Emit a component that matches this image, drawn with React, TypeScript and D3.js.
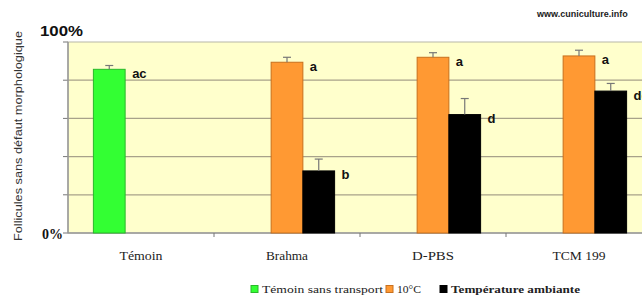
import React from 'react'
import * as d3 from 'd3'

const categories = ['Témoin', 'Brahma', 'D-PBS', 'TCM 199']
const series = ['Témoin sans transport', '10°C', 'Température ambiante']
const colors = ['#33ff33', '#ff9933', '#000000']
const strokes = ['#2ab82a', '#c8701e', '#000000']
// values (%) per series, null where no bar
const temoinVals = [85.7, null, null, null]
const coldVals = [null, 89.4, 92.0, 92.7]
const ambientVals = [null, 32.5, 62.0, 74.3]
const temoinErr = [2.0, null, null, null]
const coldErr = [null, 2.6, 2.4, 3.0]
const ambientErr = [null, 6.2, 8.4, 4.0]
const temoinLabels = ['ac', '', '', '']
const coldLabels = ['', 'a', 'a', 'a']
const ambientLabels = ['', 'b', 'd', 'de']
const yTicks = [0, 20, 40, 60, 80, 100]

export default function App() {
    const width = 642
    const height = 299
    const margin = { top: 42, left: 68, bottom: 66 }
    const plotW = 584
    const plotH = height - margin.top - margin.bottom

    const x = d3.scaleBand().domain(categories).range([0, plotW])
    const inner = d3.scaleBand().domain(series).range([0, x.bandwidth()]).paddingOuter(0.8).paddingInner(0)
    const y = d3.scaleLinear().domain([0, 100]).range([plotH, 0])

    const vals = [temoinVals, coldVals, ambientVals]
    const errs = [temoinErr, coldErr, ambientErr]
    const labels = [temoinLabels, coldLabels, ambientLabels]

    const bars: any[] = []
    series.forEach((s, si) => {
        categories.forEach((c, ci) => {
            const v = vals[si][ci]
            if (v == null) return
            bars.push({ s, si, c, v, e: errs[si][ci], label: labels[si][ci] })
        })
    })

    const catWidths = [43, 42, 42, 53]
    const legendItems = [
        { x: 251, w: 121, text: series[0], bold: false },
        { x: 386, w: 24, text: series[1], bold: false },
        { x: 440, w: 129, text: series[2], bold: true },
    ]

    return (
        <svg width={width} height={height} style={{ position: 'absolute', left: 0, top: 0, background: '#fff' }}>
            <text x={537} y={17} fontFamily="Liberation Sans, Arial" fontWeight="bold" fontSize={9} fill="#222">www.cuniculture.info</text>
            <text transform={`translate(22, ${136}) rotate(-90)`} textAnchor="middle" textLength={210} lengthAdjust="spacingAndGlyphs"
                fontFamily="Liberation Sans, Arial" fontSize={10.5} fill="#333">Follicules sans défaut morphologique</text>
            <text x={40} y={36} textLength={43} lengthAdjust="spacingAndGlyphs" fontFamily="Liberation Sans, Arial" fontWeight="bold" fontSize={14} fill="#111">100%</text>
            <text x={63} y={239} textAnchor="end" fontFamily="Liberation Serif, Times New Roman" fontWeight="bold" fontSize={14} fill="#111">0%</text>
            <g transform={`translate(${margin.left},${margin.top})`}>
                <rect x={0} y={0} width={plotW} height={plotH} fill="#ffffcc" stroke="#b8b8a8" strokeWidth={1} />
                {yTicks.map(t => (
                    <g key={t}>
                        {t > 0 && t < 100 && <line x1={0} x2={plotW} y1={y(t)} y2={y(t)} stroke="#a8a28a" strokeWidth={1.2} />}
                        <line x1={-5} x2={0} y1={y(t)} y2={y(t)} stroke="#777" />
                    </g>
                ))}
                <line x1={0} x2={0} y1={0} y2={plotH} stroke="#999" strokeWidth={1.5} />
                <line x1={0} x2={plotW} y1={plotH} y2={plotH} stroke="#999" strokeWidth={1.5} />
                {categories.slice(1).map(c => (
                    <line key={c} x1={x(c)!} x2={x(c)!} y1={plotH} y2={plotH + 4} stroke="#777" />
                ))}
                {bars.map((b, i) => {
                    const bx = x(b.c)! + inner(b.s)!
                    const bw = inner.bandwidth()
                    const cx = bx + bw / 2
                    return (
                        <g key={i}>
                            <rect x={bx} y={y(b.v)} width={bw} height={plotH - y(b.v)} fill={colors[b.si]} stroke={strokes[b.si]} strokeWidth={1} />
                            <line x1={cx} x2={cx} y1={y(b.v)} y2={y(b.v + b.e)} stroke="#777" strokeWidth={1.2} />
                            <line x1={cx - 4} x2={cx + 4} y1={y(b.v + b.e)} y2={y(b.v + b.e)} stroke="#777" strokeWidth={1.2} />
                            <text x={bx + bw + 7} y={y(b.v) + 4} dy="0.35em" fontFamily="Liberation Sans, Arial" fontWeight="bold" fontSize={13} fill="#111">{b.label}</text>
                        </g>
                    )
                })}
                {categories.map((c, i) => (
                    <text key={c} x={x(c)! + x.bandwidth() / 2 - catWidths[i] / 2} y={plotH + 27}
                        textLength={catWidths[i]} lengthAdjust="spacingAndGlyphs"
                        fontFamily="Liberation Serif, Times New Roman" fontSize={12} fill="#222">{c}</text>
                ))}
            </g>
            <g>
                {legendItems.map((l, i) => (
                    <g key={i}>
                        <rect x={l.x} y={285.5} width={7} height={7} fill={colors[i]} stroke={strokes[i]} />
                        <text x={l.x + 11} y={293} textLength={l.w} lengthAdjust="spacingAndGlyphs"
                            fontFamily="Liberation Serif, Times New Roman" fontSize={11}
                            fontWeight={l.bold ? 'bold' : 'normal'} fill="#222">{l.text}</text>
                    </g>
                ))}
            </g>
        </svg>
    )
}
